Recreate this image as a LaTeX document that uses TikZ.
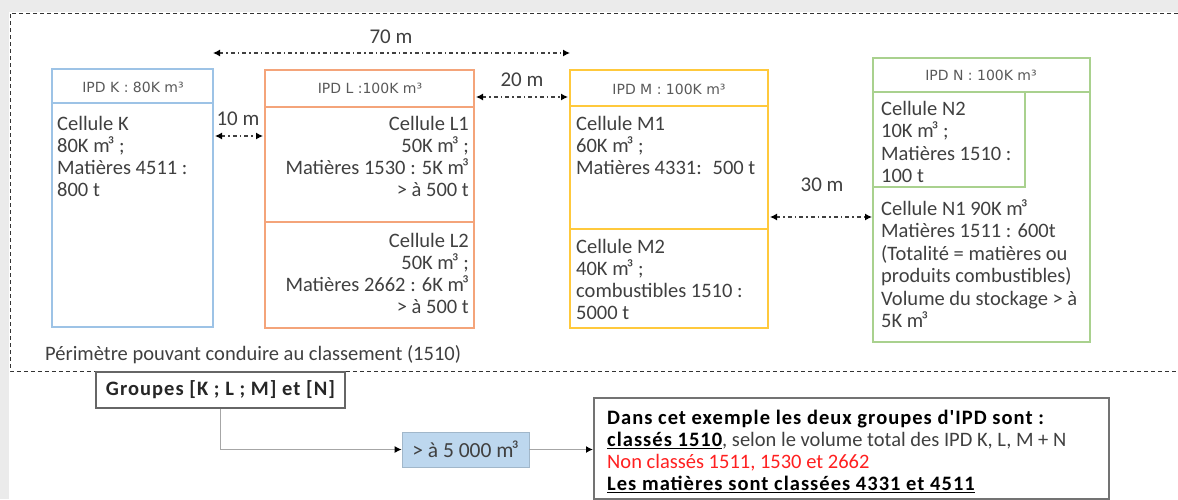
\documentclass[tikz,border=0pt]{standalone}
\usepackage{fontspec}
\setmainfont{Carlito}
\newfontfamily\hdrfont{DejaVu Sans}
\newfontfamily\widefont[LetterSpace=5]{Carlito}
\usetikzlibrary{arrows.meta}
\definecolor{bgray}{HTML}{EBEBEB}
\definecolor{kcol}{HTML}{9DC3E6}
\definecolor{lcol}{HTML}{F4A47A}
\definecolor{mcol}{HTML}{FFC93C}
\definecolor{ncol}{HTML}{A9D18E}
\definecolor{bfill}{HTML}{BDD7EE}
\definecolor{txt}{HTML}{404040}
\definecolor{hdrtxt}{HTML}{595959}
\definecolor{conn}{HTML}{A6A6A6}
\definecolor{redtxt}{HTML}{FF2020}
\tikzset{
  cellbox/.style={draw=#1, line width=2pt, inner sep=0pt, outer sep=0pt, anchor=north west},
  body/.style={inner sep=0pt, text=txt, font=\fontsize{20.5}{22}\selectfont, align=left},
  hdr/.style={inner sep=0pt, text=hdrtxt, font=\hdrfont\fontsize{14}{16}\selectfont},
  lbl/.style={inner sep=0pt, text=txt, font=\fontsize{21}{22}\selectfont},
  dist/.style={draw=black!75, line width=1.2pt, dash pattern=on 4pt off 3pt on 1.5pt off 3pt,
     {Latex[length=7pt,width=7pt,black]}-{Latex[length=7pt,width=7pt,black]}},
  frame/.style={draw=black!80, line width=1pt, dash pattern=on 4pt off 3pt},
  connector/.style={draw=conn, line width=1.8pt, -{Latex[length=7pt,width=7pt,black]}},
}
\newcommand{\wb}[1]{{\widefont\bfseries #1}}
\newcommand{\mcub}{m\kern-2pt³}
\begin{document}
\begin{tikzpicture}[x=1pt,y=-1pt]
\fill[bgray] (0,0) rectangle (1178,499);
\fill[white] (9,12) rectangle (1178,499);
\useasboundingbox (0,0) rectangle (1178,499);
% frame
\draw[frame] (1178,13) -- (10,13) -- (10,371) -- (1178,371);
% boxes
\node[cellbox=kcol, minimum width=161pt, minimum height=258pt] (K) at (52,69) {};
\node[cellbox=lcol, minimum width=209pt, minimum height=258pt] (L) at (265,70) {};
\node[cellbox=mcol, minimum width=198pt, minimum height=258pt] (M) at (570,70) {};
\node[cellbox=ncol, minimum width=217pt, minimum height=284pt] (N) at (873,58) {};
% dividers
\draw[kcol, line width=2pt] (52,103) -- (213,103);
\draw[lcol, line width=2pt] (265,107) -- (474,107);
\draw[lcol, line width=2pt] (265,222) -- (474,222);
\draw[mcol, line width=2pt] (570,106) -- (768,106);
\draw[mcol, line width=2pt] (570,229) -- (768,229);
\draw[ncol, line width=2.6pt] (873,92) -- (1090,92);
\draw[ncol, line width=2.4pt] (873,187) -| (1025,92);
% headers
\node[hdr] (Kh) at (133,87) {IPD K : 80K m³};
\node[hdr] (Lh) at (370,88) {IPD L :100K m³};
\node[hdr] (Mh) at (669,89) {IPD M : 100K m³};
\node[hdr] (Nh) at (981,75) {IPD N : 100K m³};
% cell texts
\node[body, anchor=north west] (Kt) at (57,116) {Cellule K\\80K \mcub{} ;\\Matières 4511 :\\800 t};
\node[body, anchor=north east, align=right] (L1t) at (469,116) {Cellule L1\\50K \mcub{} ;\\Matières 1530 : 5K \mcub\\> à 500 t};
\node[body, anchor=north east, align=right] (L2t) at (469,233) {Cellule L2\\50K \mcub{} ;\\Matières 2662 : 6K \mcub\\> à 500 t};
\node[body, anchor=north west] (M1t) at (576,116) {Cellule M1\\60K \mcub{} ;\\Matières 4331:~ 500 t};
\node[body, anchor=north west] (M2t) at (576,239) {Cellule M2\\40K \mcub{} ;\\combustibles 1510 :\\5000 t};
\node[body, anchor=north west, font=\fontsize{20.5}{22.5}\selectfont] (N2t) at (881,101) {Cellule N2\\10K \mcub{} ;\\Matières 1510 :\\100 t};
\node[body, anchor=north west, font=\fontsize{20.5}{22.5}\selectfont] (N1t) at (881,199) {Cellule N1 90K \mcub\\Matières 1511 : 600t\\(Totalité = matières ou\\produits combustibles)\\Volume du stockage > à\\5K \mcub};
% distance arrows
\coordinate (r70) at (0,53);
\coordinate (r10) at (0,136);
\coordinate (r20) at (0,97);
\coordinate (r30) at (0,217);
\draw[dist] (K.east |- r70) -- (M.west |- r70);
\draw[dist, shorten <=2pt, shorten >=2pt] (K.east |- r10) -- (L.west |- r10);
\draw[dist, shorten <=2pt, shorten >=2pt] (L.east |- r20) -- (M.west |- r20);
\draw[dist, shorten <=2pt, shorten >=1pt] (M.east |- r30) -- (N.west |- r30);
\node[lbl] (l70) at (391,37) {70 m};
\node[lbl] (l10) at (238,119) {10 m};
\node[lbl] (l20) at (522,80) {20 m};
\node[lbl] (l30) at (822,185) {30 m};
% perimeter
\node[body, anchor=west] (per) at (45,355) {Périmètre pouvant conduire au classement (1510)};
% bottom
\node[draw=black!60, line width=2pt, fill=white, minimum width=249pt, minimum height=36pt, inner sep=0pt,
      font=\fontsize{20.5}{22}\selectfont, text=black!85] (G) at (220.5,390) {\wb{Groupes [K ; L ; M] et [N]}};
\node[fill=bfill, draw=bfill!85!black, line width=0.6pt, minimum width=127pt, minimum height=35pt, inner sep=0pt,
      font=\fontsize{21.5}{22}\selectfont, text=txt] (B) at (465.5,449.5) {> à 5 000 \mcub};
\node[draw=black!55, line width=1.8pt, minimum width=515pt, minimum height=101pt, inner sep=0pt, anchor=north west] (F) at (593,397) {};
\node[inner sep=0pt, anchor=north west, align=left, font=\fontsize{20.5}{22}\selectfont, text=black] (Ft) at (607,410)
 {\wb{Dans cet exemple les deux groupes d'IPD sont :}\\
  \wb{\underline{classés 1510}}\textcolor{txt}{, selon le volume total des IPD K, L, M + N}\\
  \textcolor{redtxt}{Non classés 1511, 1530 et 2662}\\
  \wb{\underline{Les matières sont classées 4331 et 4511}}};
\draw[connector] (G.south) |- (B.west);
\draw[connector] (B.east) -- (F.west |- B.east);
\end{tikzpicture}
\end{document}
